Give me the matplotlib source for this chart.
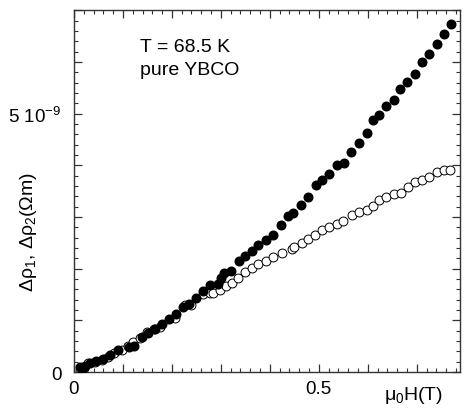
import matplotlib
matplotlib.use("Agg")
import matplotlib.pyplot as plt
from matplotlib.ticker import MultipleLocator, FuncFormatter
import numpy as np

plt.rcParams['font.family'] = ['Liberation Sans', 'DejaVu Sans']
plt.rcParams['mathtext.fontset'] = 'custom'
plt.rcParams['mathtext.rm'] = 'Liberation Sans'
plt.rcParams['mathtext.it'] = 'Liberation Sans'
plt.rcParams['mathtext.bf'] = 'Liberation Sans'

# field mu0 H (T) and resistivity changes (units of 1e-9 Ohm m)
h_filled = [0.012, 0.016, 0.022, 0.033, 0.045, 0.059, 0.074, 0.090, 0.112, 0.122,
            0.139, 0.151, 0.165, 0.180, 0.194, 0.208, 0.222, 0.235, 0.249, 0.263,
            0.278, 0.294, 0.300, 0.306, 0.320, 0.337, 0.349, 0.363, 0.376, 0.392,
            0.406, 0.422, 0.437, 0.447, 0.463, 0.478, 0.494, 0.506, 0.520, 0.537,
            0.551, 0.565, 0.582, 0.598, 0.610, 0.622, 0.637, 0.653, 0.665, 0.680,
            0.696, 0.710, 0.725, 0.741, 0.755, 0.769]
rho1 = [0.10, 0.04, 0.12, 0.17, 0.21, 0.25, 0.33, 0.43, 0.48, 0.50,
        0.68, 0.75, 0.83, 0.93, 1.02, 1.12, 1.26, 1.31, 1.43, 1.56,
        1.68, 1.70, 1.82, 1.91, 1.95, 2.14, 2.24, 2.34, 2.45, 2.55,
        2.65, 2.84, 3.01, 3.07, 3.24, 3.38, 3.61, 3.71, 3.84, 4.00,
        4.04, 4.25, 4.44, 4.63, 4.87, 4.98, 5.14, 5.27, 5.48, 5.62,
        5.77, 5.99, 6.16, 6.35, 6.53, 6.74]

h_open = [0.012, 0.020, 0.029, 0.043, 0.057, 0.069, 0.082, 0.098, 0.110, 0.120,
          0.134, 0.149, 0.163, 0.176, 0.206, 0.226, 0.240, 0.263, 0.278, 0.284,
          0.298, 0.310, 0.322, 0.335, 0.349, 0.363, 0.376, 0.392, 0.406, 0.424,
          0.445, 0.449, 0.465, 0.478, 0.492, 0.506, 0.520, 0.537, 0.549, 0.567,
          0.582, 0.598, 0.610, 0.622, 0.637, 0.653, 0.667, 0.682, 0.696, 0.710,
          0.724, 0.741, 0.755, 0.767]
rho2 = [0.04, 0.08, 0.17, 0.19, 0.23, 0.30, 0.37, 0.43, 0.50, 0.58,
        0.66, 0.77, 0.83, 0.87, 1.04, 1.30, 1.30, 1.50, 1.52, 1.52,
        1.58, 1.66, 1.73, 1.81, 1.93, 2.01, 2.08, 2.14, 2.22, 2.30,
        2.38, 2.41, 2.49, 2.57, 2.66, 2.74, 2.80, 2.86, 2.93, 3.04,
        3.09, 3.13, 3.22, 3.32, 3.38, 3.44, 3.47, 3.57, 3.67, 3.71,
        3.77, 3.86, 3.90, 3.90]

fig = plt.figure(figsize=(4.65, 4.14), dpi=100)
ax = fig.add_axes([0.159, 0.099, 0.830, 0.874])

ax.plot(h_open, np.array(rho2) * 1e-9, 'o', mfc='white', mec='black',
        mew=0.7, ms=6.4, zorder=2)
ax.plot(h_filled, np.array(rho1) * 1e-9, 'o', color='black', ms=6.2, zorder=3)

ax.set_xlim(0, 0.788)
ax.set_ylim(0, 7e-9)

ax.xaxis.set_major_locator(MultipleLocator(0.1))
ax.xaxis.set_minor_locator(MultipleLocator(0.02))
ax.yaxis.set_major_locator(MultipleLocator(1e-9))
ax.yaxis.set_minor_locator(MultipleLocator(0.2e-9))


def xfmt(v, pos):
    if abs(v) < 1e-6:
        return '0'
    if abs(v - 0.5) < 1e-6:
        return '0.5'
    return ''


def yfmt(v, pos):
    if abs(v) < 1e-15:
        return '0'
    if abs(v - 5e-9) < 1e-15:
        return '5 10$^{-9}$'
    return ''


ax.xaxis.set_major_formatter(FuncFormatter(xfmt))
ax.yaxis.set_major_formatter(FuncFormatter(yfmt))

ax.tick_params(which='both', direction='in', top=True, right=True,
               labelsize=13.5, colors='#333333', labelcolor='black')
ax.tick_params(which='major', length=6, width=0.9)
ax.tick_params(which='minor', length=3, width=0.8)
ax.tick_params(axis='x', which='major', pad=6)
ax.tick_params(axis='y', which='major', pad=9)
for s in ax.spines.values():
    s.set_color('#333333')
    s.set_linewidth(1.0)

ax.text(0.171, 0.90, 'T = 68.5 K', transform=ax.transAxes, fontsize=14,
        va='center', ha='left')
ax.text(0.171, 0.835, 'pure YBCO', transform=ax.transAxes, fontsize=14,
        va='center', ha='left')

ax.text(-0.118, 0.39, r'$\Delta\rho_1$, $\Delta\rho_2$($\Omega$m)',
        transform=ax.transAxes, rotation=90, fontsize=14,
        va='center', ha='center')
ax.text(0.88, -0.062, r'$\mu_0$H(T)', transform=ax.transAxes, fontsize=14,
        va='center', ha='center')

fig.savefig('out.png', dpi=100)
